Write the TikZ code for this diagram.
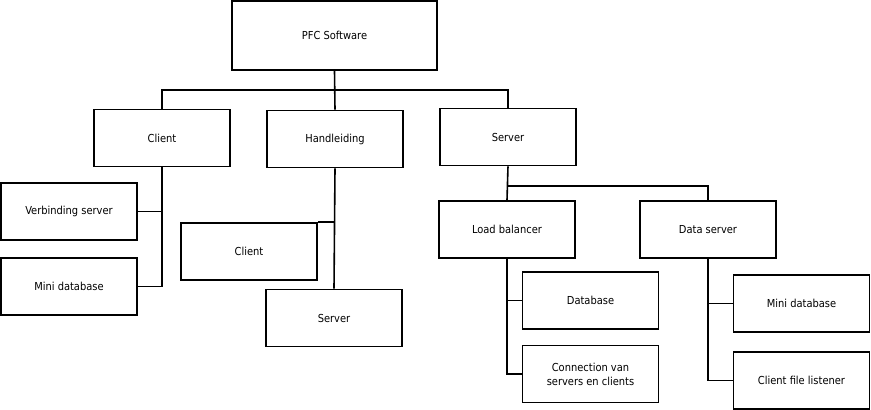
\documentclass[tikz,border=0pt]{standalone}
\usepackage{fontspec}
\setmainfont{DejaVu Sans Condensed}
\usetikzlibrary{positioning}

\begin{document}
\begin{tikzpicture}[
    x=1pt, y=-1pt,
    blok/.style={
        rectangle,
        draw=black, fill=white, line width=1.6pt,
        minimum width=136pt, minimum height=57pt,
        inner sep=2pt, align=center,
        font=\fontsize{11}{14}\selectfont
    },
    lijn/.style={line width=1.6pt}
]
\useasboundingbox (0,0) rectangle (871,410);

\node[blok, minimum width=205pt, minimum height=69pt] (pfc) at (334.5,35.5) {PFC Software};

\node[blok] (client)      at (162,138)   {Client};
\node[blok] (handleiding) at (335,139)   {Handleiding};
\node[blok] (server)      at (508,137)   {Server};

\node[blok] (verbinding)  at (69,211.5)  {Verbinding server};
\node[blok] (minidb)      at (69,286.5)  {Mini database};

\node[blok] (hclient)     at (249,251.5) {Client};
\node[blok] (hserver)     at (334,318)   {Server};

\node[blok] (loadbal)     at (507,229.5) {Load balancer};
\node[blok] (dataserver)  at (708,229.5) {Data server};

\node[blok] (database)    at (590.5,300.5) {Database};
\node[blok] (connection)  at (590.5,374)   {Connection van\\servers en clients};

\node[blok] (dminidb)     at (801.5,303.5) {Mini database};
\node[blok] (listener)    at (801.5,380.5) {Client file listener};

\coordinate (bus)  at (334.5,90);
\coordinate (sbus) at (507,186);

\draw[lijn] (pfc.south) -- (handleiding.north);
\draw[lijn] (client.north) |- (bus) -| (server.north);

\draw[lijn] (client.south) |- (minidb.east);
\draw[lijn] (verbinding.east) -- (verbinding.east -| client.south);

\draw[lijn] (handleiding.south) -- (hserver.north);
\draw[lijn] (hclient.north east) -- (hclient.north east -| handleiding.south);

\draw[lijn] (server.south) -- (loadbal.north);
\draw[lijn] (sbus) -| (dataserver.north);

\draw[lijn] (loadbal.south) |- (connection.west);
\draw[lijn] (database.west) -- (database.west -| loadbal.south);

\draw[lijn] (dataserver.south) |- (listener.west);
\draw[lijn] (dminidb.west) -- (dminidb.west -| dataserver.south);
\end{tikzpicture}
\end{document}
